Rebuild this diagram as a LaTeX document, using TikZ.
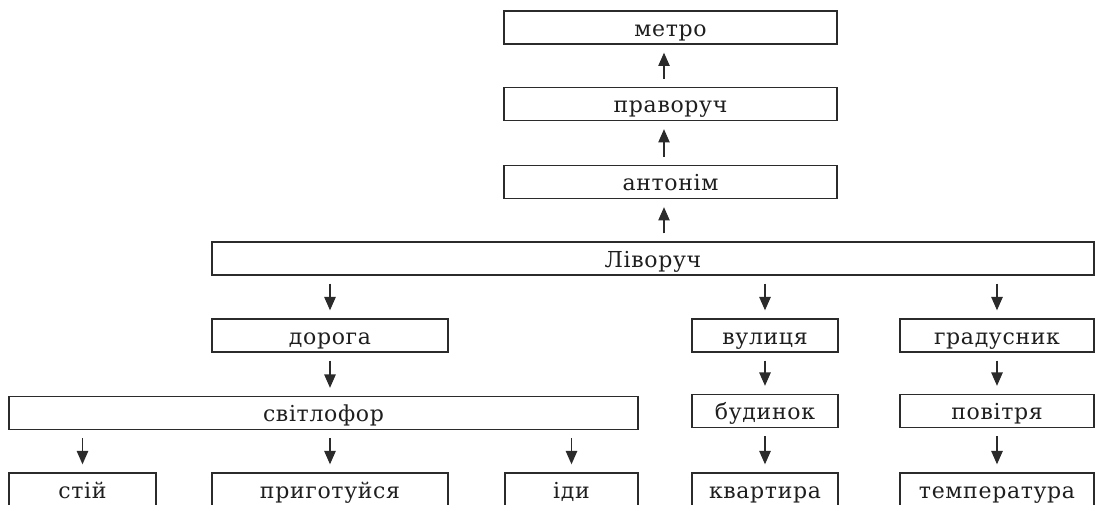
\documentclass[tikz,border=0pt]{standalone}
\usepackage{fontspec}
\setmainfont{DejaVu Serif}[LetterSpace=3]
\usetikzlibrary{arrows.meta}
\definecolor{lc}{HTML}{2B2B2B}
\definecolor{tc}{HTML}{1E1E1E}
\begin{document}
\begin{tikzpicture}[x=0.75pt,y=-0.75pt,
  box/.style={draw=lc, line width=1pt, minimum height=24.75pt, inner sep=0pt,
    text height=13pt, text depth=0pt, font=\fontsize{16.5}{19}\selectfont, text=tc},
  bw/.style={minimum width={#1*0.75pt}},
  arr/.style={draw=lc, line width=1.05pt, -{Triangle[length=10pt,width=8.5pt]},
    shorten <=6pt, shorten >=6pt}]
\useasboundingbox (0,0) rectangle (1097,505);
\clip (0,0) rectangle (1097,505);
% top chain
\node[box,bw=333] (metro) at (670.5,27.5) {метро};
\node[box,bw=333] (prav) at (670.5,104) {праворуч};
\node[box,bw=333] (anton) at (670.5,182) {антонім};
\node[box,bw=882] (liv) at (653,258.5) {Ліворуч};
% second row
\node[box,bw=236] (doroga) at (330,335.5) {дорога};
\node[box,bw=146] (vul) at (765,335.5) {вулиця};
\node[box,bw=194] (grad) at (997,335.5) {градусник};
% third row
\node[box,bw=629] (svit) at (323.5,413) {світлофор};
\node[box,bw=146] (bud) at (765,411) {будинок};
\node[box,bw=194] (pov) at (997,411) {повітря};
% bottom row (cut by the page edge)
\node[box,bw=147,minimum height=25.5pt] (stii) at (82.5,490) {стій};
\node[box,bw=236,minimum height=25.5pt] (pryg) at (330,490) {приготуйся};
\node[box,bw=133,minimum height=25.5pt] (idy) at (571.5,490) {іди};
\node[box,bw=146,minimum height=25.5pt] (kv) at (765,490) {квартира};
\node[box,bw=194,minimum height=25.5pt] (temp) at (997,490) {температура};
% upward arrows
\coordinate (ax) at (664,0);
\draw[arr] (ax |- liv.north) -- (ax |- anton.south);
\draw[arr] (ax |- anton.north) -- (ax |- prav.south);
\draw[arr] (ax |- prav.north) -- (ax |- metro.south);
% downward arrows
\draw[arr] (doroga.north |- liv.south) -- (doroga.north);
\draw[arr] (vul.north |- liv.south) -- (vul.north);
\draw[arr] (grad.north |- liv.south) -- (grad.north);
\draw[arr] (doroga.south) -- (doroga.south |- svit.north);
\draw[arr] (vul.south) -- (bud.north);
\draw[arr] (grad.south) -- (pov.north);
\draw[arr] (stii.north |- svit.south) -- (stii.north);
\draw[arr] (pryg.north |- svit.south) -- (pryg.north);
\draw[arr] (idy.north |- svit.south) -- (idy.north);
\draw[arr] (bud.south) -- (kv.north);
\draw[arr] (pov.south) -- (temp.north);
\end{tikzpicture}
\end{document}
